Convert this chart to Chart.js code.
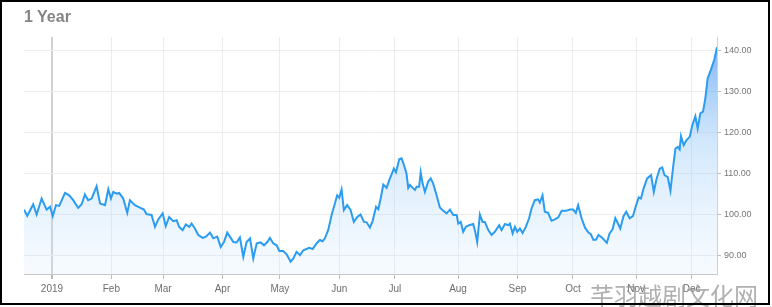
<!DOCTYPE html>
<html>
<head>
<meta charset="utf-8">
<script src="https://cdn.jsdelivr.net/npm/chart.js@4/dist/chart.umd.min.js"></script>
<style>
  html, body { margin: 0; padding: 0; background: #fff; }
  #wrap { position: relative; width: 772px; height: 307px; overflow: hidden; }
  #c { position: absolute; left: 0; top: 0; }
  #title { position: absolute; left: 24px; top: 8px; font: bold 16px "Liberation Sans", Arial, sans-serif; color: #858585; }
  #frame { position: absolute; left: 0; top: 0; width: 766px; height: 301px; border: 2px solid #000; pointer-events: none; }
  #wm { position: absolute; left: 590px; top: 277px; font: 24px "Noto Sans CJK SC", sans-serif; color: rgba(150,150,150,0.75); letter-spacing: 0px; pointer-events: none; }
</style>
</head>
<body>
<div id="wrap">
  <canvas id="c" width="772" height="307"></canvas>
  <div id="title">1 Year</div>
  <div id="wm">芊羽越剧文化网</div>
  <div id="frame"></div>
</div>
<script>
// Days since 1 Jan 2019
const days = [-14.6,-12.9,-9.8,-8.0,-5.4,-2.8,-1.0,0.4,2.1,3.8,6.8,9.0,11.1,13.7,15.5,17.2,18.9,20.7,23.3,25.1,27.7,29.4,30.8,32.0,33.8,35.1,37.2,39.3,40.7,43.3,45.9,48.0,49.4,52.0,53.8,55.5,57.8,59.4,61.2,63.3,65.1,66.4,68.2,69.9,71.7,72.9,74.6,76.4,78.7,80.4,82.5,84.2,86.3,88.1,89.8,91.5,93.3,94.7,96.4,98.1,99.9,101.6,103.4,105.1,106.9,108.9,110.7,112.4,113.8,115.5,117.3,118.7,120.7,122.5,124.6,126.0,127.7,129.5,131.2,134.3,136.1,138.2,139.9,141.3,142.5,144.2,146.0,147.7,148.9,150.0,151.2,152.4,154.1,155.9,157.6,159.4,161.1,162.9,164.3,166.0,167.4,169.2,170.4,171.6,173.0,174.7,176.1,177.3,178.5,179.6,181.3,182.5,183.7,185.1,186.0,186.9,188.3,189.5,190.4,191.7,192.5,193.5,194.7,196.4,197.7,199.0,200.8,202.5,204.3,206.0,207.8,209.5,211.3,212.1,213.4,214.7,216.1,217.8,219.9,220.8,222.0,223.4,224.8,226.0,227.8,229.5,231.2,233.5,234.7,236.5,238.2,239.1,240.5,241.7,242.9,244.3,245.7,247.4,249.1,250.4,252.1,253.8,254.7,256.1,257.3,259.0,260.8,262.6,264.3,266.1,268.3,270.4,272.1,273.5,274.7,276.5,278.3,280.1,281.3,282.7,284.1,285.3,287.1,289.7,291.1,292.7,294.1,295.3,296.7,298.4,299.8,301.6,303.3,305.0,306.3,307.5,308.9,310.7,312.8,314.2,315.6,317.3,318.6,319.8,321.5,322.9,324.3,325.5,326.7,327.7,328.4,329.8,331.2,333.0,334.2,335.9,337.1,338.5,339.9,341.1,342.3,344.1,345.8,347.2];
const prices = [101.1,99.6,102.4,99.9,103.8,101.1,101.8,99.5,102.2,102.0,105.2,104.6,103.4,101.5,102.4,104.8,103.4,103.8,106.8,102.6,102.2,106.1,103.8,105.4,105.0,105.2,103.8,100.3,103.4,102.2,101.6,101.1,100.0,99.8,96.9,98.7,100.2,97.1,99.3,98.3,98.5,96.9,96.1,97.5,96.9,97.7,96.5,94.9,94.2,94.5,95.5,94.1,94.5,92.0,93.2,95.5,94.2,93.2,93.1,94.3,89.6,93.2,94.1,89.2,92.9,93.1,92.4,93.2,94.2,92.9,92.4,91.0,91.0,90.2,88.4,89.2,90.8,90.0,91.2,91.8,91.5,92.9,93.7,93.4,94.1,96.1,99.8,102.6,104.6,104.0,106.0,101.0,102.2,101.0,98.1,99.3,99.9,98.1,98.0,96.7,98.3,101.8,101.2,103.8,107.2,106.4,108.3,109.7,111.1,110.2,113.4,113.6,112.1,109.9,106.4,107.1,106.4,105.9,106.7,106.7,110.2,107.5,105.4,107.9,108.7,107.5,104.6,101.6,100.8,100.2,101.1,99.8,99.8,97.7,98.1,95.7,96.9,97.3,97.6,96.1,93.2,99.9,98.1,98.1,96.1,94.9,95.7,97.3,96.1,97.6,97.3,97.7,95.3,96.9,95.7,96.5,95.4,96.9,99.0,101.4,103.4,103.6,102.8,104.6,100.6,100.3,98.4,98.7,99.2,100.8,100.8,101.1,101.1,100.3,102.2,99.0,96.7,95.5,95.1,93.7,93.8,94.9,94.3,93.0,95.3,96.3,99.0,97.9,96.5,99.5,100.6,99.0,99.5,102.2,104.1,103.8,106.3,108.7,109.5,105.4,108.5,111.1,111.4,109.5,109.0,105.7,111.5,116.0,116.4,115.8,119.0,116.8,118.0,118.9,121.5,123.9,120.9,124.6,125.0,128.2,133.1,135.3,137.7,140.7];
const tickDays = [0, 31, 58, 89, 119, 150, 179, 212, 243, 272, 305, 334];
const tickLabels = ['2019','Feb','Mar','Apr','May','Jun','Jul','Aug','Sep','Oct','Nov','Dec'];
const yTicks = [90, 100, 110, 120, 130, 140];

const points = days.map((d, i) => ({ x: d, y: prices[i] }));

new Chart(document.getElementById('c'), {
  type: 'line',
  data: {
    datasets: [{
      data: points,
      borderColor: '#2b9cf0',
      borderWidth: 2,
      pointRadius: 0,
      tension: 0,
      fill: 'start',
      backgroundColor: (ctx) => {
        const ca = ctx.chart.chartArea;
        if (!ca) return 'rgba(150,200,250,0.3)';
        const g = ctx.chart.ctx.createLinearGradient(0, ca.top, 0, ca.bottom);
        g.addColorStop(0, 'rgba(85,155,240,0.8)');
        g.addColorStop(0.45, 'rgba(145,198,248,0.4)');
        g.addColorStop(1, 'rgba(215,235,253,0.22)');
        return g;
      }
    }]
  },
  options: {
    responsive: false,
    animation: false,
    devicePixelRatio: 1,
    layout: { padding: { left: 24, top: 37, right: 0, bottom: 0 } },
    plugins: { legend: { display: false }, tooltip: { enabled: false } },
    scales: {
      x: {
        type: 'linear',
        min: days[0],
        max: days[days.length - 1],
        afterBuildTicks: (s) => { s.ticks = tickDays.map(v => ({ value: v })); },
        afterFit: (s) => { s.height = 33; },
        ticks: {
          autoSkip: false, maxRotation: 0, padding: 4,
          color: '#6e6e6e',
          font: { family: 'Liberation Sans', size: 10 },
          callback: (v) => tickLabels[tickDays.indexOf(v)]
        },
        grid: {
          color: (c) => c.index === 0 ? '#d0d0d0' : '#ececec',
          lineWidth: (c) => c.index === 0 ? 2 : 1,
          tickLength: 5,
          tickColor: '#bbbbbb'
        },
        border: { display: true, color: '#c8c8c8', width: 1 }
      },
      y: {
        position: 'right',
        min: 85.4,
        max: 143.2,
        afterBuildTicks: (s) => { s.ticks = yTicks.map(v => ({ value: v })); },
        afterFit: (s) => { s.width = 55; },
        ticks: {
          padding: 3,
          color: '#777777',
          font: { family: 'Liberation Sans', size: 9 },
          callback: (v) => Number(v).toFixed(2)
        },
        grid: { color: '#ececec', lineWidth: 1, tickLength: 4, tickColor: '#bbbbbb' },
        border: { display: true, color: '#d0d0d0', width: 1 }
      }
    }
  }
});
</script>
</body>
</html>
